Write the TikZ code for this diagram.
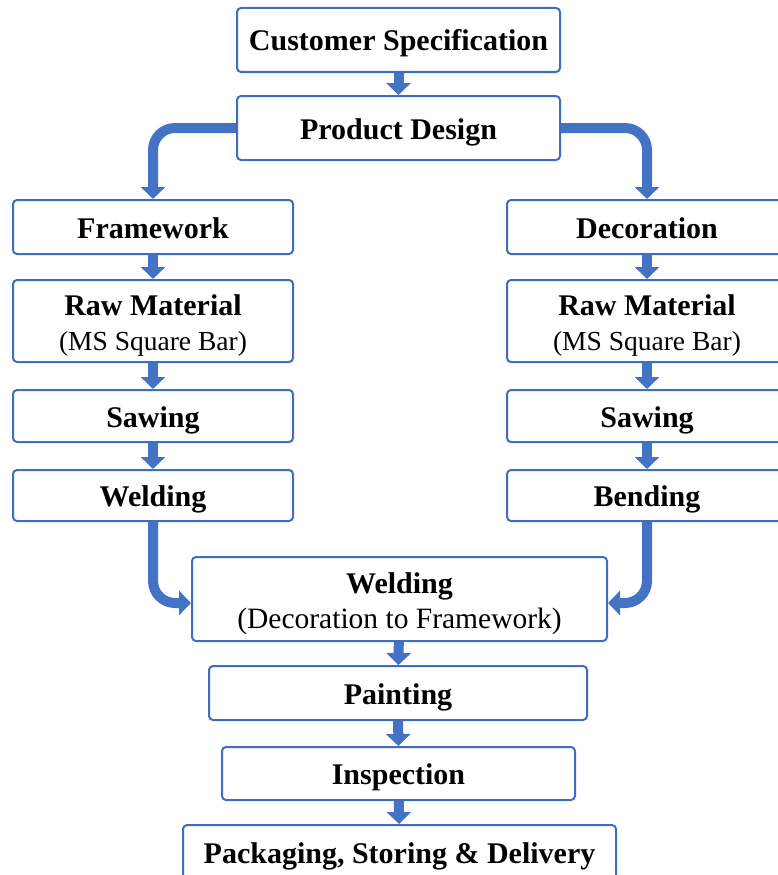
\documentclass[tikz,border=0pt]{standalone}
\usepackage{fontspec}
\setmainfont{Liberation Serif}
\usetikzlibrary{arrows.meta}
\definecolor{bordc}{HTML}{3F6DBF}
\definecolor{arrc}{HTML}{4472C4}
\tikzset{
  box/.style={draw=bordc, line width=2pt, rounded corners=4pt, fill=white, inner sep=0pt, align=center,
    font=\fontsize{30}{34}\selectfont\bfseries},
  oneline/.style={box, text height=28pt, text depth=6pt},
  flow/.style={draw=arrc, line width=10pt, -{Triangle[width=24pt,length=12pt]}},
  bigflow/.style={flow, rounded corners=22pt},
}
\newcommand{\subtxt}[2]{{\mdseries\fontsize{#1}{34}\selectfont #2}}
\newcommand{\twolines}[3]{\raisebox{-5pt}[\height][\depth]{\begin{tabular}{@{}c@{}}#2\\[1pt]\subtxt{#1}{#3}\end{tabular}}}
\begin{document}
\begin{tikzpicture}[x=1pt,y=-1pt]
\useasboundingbox (0,0) rectangle (778,875);
% center column
\node[oneline, minimum width=323pt, minimum height=64pt] (cs) at (398.5,40) {Customer Specification};
\node[oneline, minimum width=323pt, minimum height=64pt] (pd) at (398.5,128) {Product Design};
% left column
\node[oneline, minimum width=280pt, minimum height=54pt] (fw) at (153,227) {Framework};
\node[box, minimum width=280pt, minimum height=82pt] (rml) at (153,321) {\twolines{27.5}{Raw Material}{(MS Square Bar)}};
\node[oneline, minimum width=280pt, minimum height=52pt] (swl) at (153,416) {Sawing};
\node[oneline, minimum width=280pt, minimum height=51pt] (wdl) at (153,495.5) {Welding};
% right column
\node[oneline, minimum width=280pt, minimum height=54pt] (dc) at (647,227) {Decoration};
\node[box, minimum width=280pt, minimum height=82pt] (rmr) at (647,321) {\twolines{27.5}{Raw Material}{(MS Square Bar)}};
\node[oneline, minimum width=280pt, minimum height=52pt] (swr) at (647,416) {Sawing};
\node[oneline, minimum width=280pt, minimum height=51pt] (bd) at (647,495.5) {Bending};
% bottom
\node[box, minimum width=415pt, minimum height=84pt] (wc) at (399.5,599) {\twolines{29.5}{Welding}{(Decoration to Framework)}};
\node[oneline, minimum width=378pt, minimum height=54pt] (pt) at (398,693) {Painting};
\node[oneline, minimum width=353pt, minimum height=53pt] (in) at (398.5,773.5) {Inspection};
\node[oneline, minimum width=433pt, minimum height=54pt] (pk) at (399.5,852) {Packaging, Storing \& Delivery};
% connectors
\draw[flow] (cs) -- (pd);
\draw[bigflow] (pd.west) -| (fw.north);
\draw[bigflow] (pd.east) -| (dc.north);
\draw[flow] (fw) -- (rml);
\draw[flow] (rml) -- (swl);
\draw[flow] (swl) -- (wdl);
\draw[flow] (dc) -- (rmr);
\draw[flow] (rmr) -- (swr);
\draw[flow] (swr) -- (bd);
\draw[bigflow] (wdl.south) |- ([yshift=-4pt]wc.west);
\draw[bigflow] (bd.south) |- ([yshift=-4pt]wc.east);
\draw[flow] (wc) -- (pt);
\draw[flow] (pt) -- (in);
\draw[flow] (in) -- (pk);
\end{tikzpicture}
\end{document}
